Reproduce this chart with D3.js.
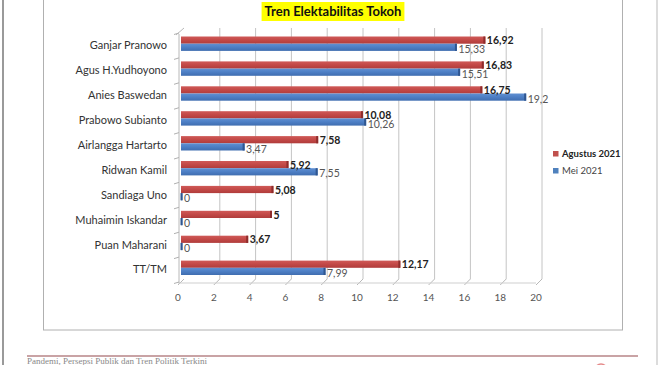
<!DOCTYPE html>
<html>
<head>
<meta charset="utf-8">
<script src="https://cdn.jsdelivr.net/npm/d3@7"></script>
<style>
  html, body { margin: 0; padding: 0; background: #fff; }
  svg { display: block; }
</style>
</head>
<body>
<svg id="chart" width="660" height="365"></svg>
<script>
const categories = ["Ganjar Pranowo", "Agus H.Yudhoyono", "Anies Baswedan", "Prabowo Subianto",
  "Airlangga Hartarto", "Ridwan Kamil", "Sandiaga Uno", "Muhaimin Iskandar", "Puan Maharani", "TT/TM"];
const agustus2021 = [16.92, 16.83, 16.75, 10.08, 7.58, 5.92, 5.08, 5, 3.67, 12.17];
const mei2021 = [15.33, 15.51, 19.2, 10.26, 3.47, 7.55, 0, 0, 0, 7.99];
const seriesNames = ["Agustus 2021", "Mei 2021"];
const xTicks = [0, 2, 4, 6, 8, 10, 12, 14, 16, 18, 20];
const titleText = "Tren Elektabilitas Tokoh";
const footerText = "Pandemi, Persepsi Publik dan Tren Politik Terkini";

const FONT = "Lato, 'Open Sans', sans-serif";
const svg = d3.select("#chart");

// page decorations
svg.append("line").attr("x1", 3).attr("x2", 3).attr("y1", 0).attr("y2", 365)
  .attr("stroke", "#9a9a9a").attr("stroke-width", 2);
svg.append("line").attr("x1", 657).attr("x2", 657).attr("y1", 0).attr("y2", 365)
  .attr("stroke", "#d0d0d0").attr("stroke-width", 1.5);
// chart frame
svg.append("rect").attr("x", 43.5).attr("y", -5).attr("width", 579).attr("height", 335)
  .attr("fill", "none").attr("stroke", "#b0b0b0").attr("stroke-width", 1);

// footer
svg.append("line").attr("x1", 27).attr("x2", 638).attr("y1", 356).attr("y2", 356)
  .attr("stroke", "#c9a3a5").attr("stroke-width", 2);
svg.append("text").attr("x", 27).attr("y", 364).text(footerText)
  .attr("font-family", "'Liberation Serif', 'DejaVu Serif', serif").attr("font-size", 9)
  .attr("fill", "#888");
svg.append("circle").attr("cx", 601).attr("cy", 370).attr("r", 6)
  .attr("fill", "none").attr("stroke", "#e58a8a").attr("stroke-width", 1.5);

// scales
const xBack = d3.scaleLinear().domain([0, 20]).range([184, 542]);
const xFront = d3.scaleLinear().domain([0, 20]).range([178, 536]);
const xBar = d3.scaleLinear().domain([0, 20]).range([181, 539]);
const y = d3.scaleBand().domain(categories).range([33, 282]);

const gridTop = 28, backBottom = 279, floorY = 283;

// gridlines (3D back wall + floor)
const grid = svg.append("g");
xTicks.forEach(t => {
  if (t > 0) {
    grid.append("line").attr("x1", xBack(t)).attr("x2", xBack(t))
      .attr("y1", gridTop).attr("y2", backBottom).attr("stroke", "#c4c4c4");
  }
  grid.append("line").attr("x1", xBack(t)).attr("x2", xFront(t))
    .attr("y1", backBottom).attr("y2", floorY + 2).attr("stroke", "#b8b8b8");
});
grid.append("line").attr("x1", xFront(0)).attr("x2", xFront(20))
  .attr("y1", floorY).attr("y2", floorY).attr("stroke", "#cfcfcf");
// left wall
grid.append("line").attr("x1", 179).attr("x2", 179).attr("y1", 34).attr("y2", floorY)
  .attr("stroke", "#b8b8b8");
grid.append("line").attr("x1", 176).attr("x2", xBack(0)).attr("y1", 35).attr("y2", gridTop)
  .attr("stroke", "#b8b8b8");
// category ticks
const bounds = categories.map(c => y(c)).concat([y.range()[1]]);
bounds.forEach(b => {
  grid.append("line").attr("x1", 174).attr("x2", 179).attr("y1", b + 1.5).attr("y2", b)
    .attr("stroke", "#b0b0b0");
});

// gradients
const defs = svg.append("defs");
function grad(id, c1, c2, c3) {
  const g = defs.append("linearGradient").attr("id", id).attr("x1", 0).attr("x2", 0).attr("y1", 0).attr("y2", 1);
  g.append("stop").attr("offset", "0%").attr("stop-color", c1);
  g.append("stop").attr("offset", "45%").attr("stop-color", c2);
  g.append("stop").attr("offset", "100%").attr("stop-color", c3);
}
grad("gRed", "#cf5a58", "#c44a48", "#b03c3b");
grad("gBlue", "#6090d2", "#4e80c6", "#3f6db0");

const barH = 7.2;
const offs = [3.5, 3.5 + barH];
const fills = ["url(#gRed)", "url(#gBlue)"];
const caps = ["#8e2c2b", "#2f5690"];
const data = [agustus2021, mei2021];
const fmt = v => String(v).replace(".", ",");

const bars = svg.append("g");
data.forEach((vals, s) => {
  categories.forEach((c, i) => {
    const v = vals[i];
    const y0 = y(c) + offs[s];
    const w = Math.max(xBar(v) - xBar(0), 0);
    bars.append("rect").attr("x", xBar(0)).attr("y", y0).attr("width", w + 1.5).attr("height", barH)
      .attr("fill", fills[s]);
    bars.append("rect").attr("x", xBar(v) - 0.5).attr("y", y0).attr("width", 2).attr("height", barH)
      .attr("fill", caps[s]);
  });
});

// value labels
const labelShift = [0.5, 2];
data.forEach((vals, s) => {
  categories.forEach((c, i) => {
    const v = vals[i];
    const y0 = y(c) + offs[s] + barH / 2 + labelShift[s];
    svg.append("text").attr("x", xBar(v) + 3).attr("y", y0).attr("dy", "0.35em")
      .text(fmt(v))
      .attr("font-family", FONT).attr("font-size", 10.5)
      .attr("font-weight", s === 0 ? "bold" : "normal")
      .attr("fill", s === 0 ? "#222" : "#555");
  });
});

// category labels
categories.forEach(c => {
  svg.append("text").attr("x", 167).attr("y", y(c) + y.bandwidth() / 2).attr("dy", "0.35em")
    .attr("text-anchor", "end").text(c)
    .attr("font-family", FONT).attr("font-size", 11).attr("fill", "#333");
});

// x tick labels
xTicks.forEach(t => {
  svg.append("text").attr("x", xFront(t)).attr("y", 297).attr("dy", "0.35em")
    .attr("text-anchor", "middle").text(t)
    .attr("font-family", FONT).attr("font-size", 10).attr("fill", "#555");
});

// legend
const legendColors = ["#c0504d", "#4f81bd"];
seriesNames.forEach((n, i) => {
  const ly = 154 + i * 17;
  svg.append("rect").attr("x", 553).attr("y", ly - 3).attr("width", 5.5).attr("height", 5.5)
    .attr("fill", legendColors[i]);
  svg.append("text").attr("x", 562).attr("y", ly).attr("dy", "0.35em").text(n)
    .attr("font-family", FONT).attr("font-size", 9.5)
    .attr("font-weight", i === 0 ? "bold" : "normal").attr("fill", i === 0 ? "#222" : "#444");
});

// title
const tt = svg.append("text").attr("x", 333).attr("y", 11.5).attr("dy", "0.35em")
  .attr("text-anchor", "middle").text(titleText)
  .attr("font-family", FONT).attr("font-size", 13).attr("font-weight", "bold").attr("fill", "#111");
const bb = tt.node().getBBox();
svg.insert("rect", "text").attr("x", bb.x - 3).attr("y", 2).attr("width", bb.width + 6).attr("height", 19)
  .attr("fill", "#ffff00");
</script>
</body>
</html>
